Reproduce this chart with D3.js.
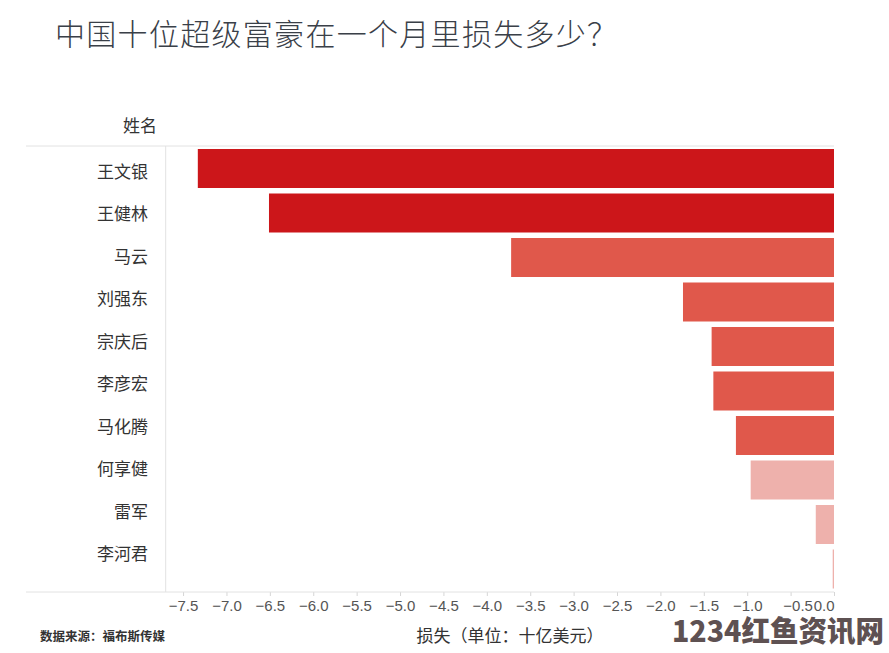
<!DOCTYPE html>
<html><head><meta charset="utf-8">
<script src="https://cdn.jsdelivr.net/npm/d3@7/dist/d3.min.js"></script>
<style>
html,body{margin:0;padding:0;background:#fff;}
svg{display:block;}
</style></head>
<body>
<svg id="chart" width="889" height="653"></svg>
<script>
const names = ["王文银","王健林","马云","刘强东","宗庆后","李彦宏","马化腾","何享健","雷军","李河君"];
const losses = [-7.33,-6.51,-3.72,-1.74,-1.41,-1.39,-1.13,-0.96,-0.21,-0.015];
const groups = ["high","high","mid","mid","mid","mid","mid","low","low","low"];
const tickValues = [-7.5,-7.0,-6.5,-6.0,-5.5,-5.0,-4.5,-4.0,-3.5,-3.0,-2.5,-2.0,-1.5,-1.0,-0.5,0.0];
const title = "中国十位超级富豪在一个月里损失多少？";
const rowHeader = "姓名";
const xTitle = "损失（单位：十亿美元）";
const source = "数据来源：福布斯传媒";
const watermark = "1234红鱼资讯网";

const data = names.map((n,i)=>({name:n, value:losses[i], group:groups[i]}));
const colors = {high:"#cc161a", mid:"#e0584b", low:"#eeb1ac"};

const svg = d3.select("#chart");
const cjk = "'Noto Sans CJK SC','Noto Sans',sans-serif";
const latin = "'Liberation Sans',Arial,sans-serif";

const x = d3.scaleLinear().domain([-7.70, 0]).range([165.7, 834]);
const y = d3.scaleBand().domain(names).range([146, 591]).padding(0);
const yLabel = d3.scaleBand().domain(names).range([151, 576]).padding(0);

// title
svg.append("text").attr("x",55).attr("y",45).text(title)
  .attr("font-family",cjk).attr("font-size",30).attr("font-weight",300)
  .attr("fill","#3a4048").attr("letter-spacing",1.3);

// header
svg.append("text").attr("x",157).attr("y",126).attr("dy","0.35em")
  .attr("text-anchor","end").text(rowHeader)
  .attr("font-family",cjk).attr("font-size",17).attr("fill","#333");

// grid lines
svg.append("line").attr("x1",26).attr("x2",834).attr("y1",146).attr("y2",146)
  .attr("stroke","#e2e2e2").attr("stroke-width",1);
svg.append("line").attr("x1",165.7).attr("x2",165.7).attr("y1",146).attr("y2",592)
  .attr("stroke","#e2e2e2").attr("stroke-width",1);

// bars
svg.append("g").selectAll("rect").data(data).join("rect")
  .attr("x", d=>x(d.value))
  .attr("y", d=>y(d.name)+3)
  .attr("width", d=>Math.max(1, x(0)-x(d.value)))
  .attr("height", y.bandwidth()-5.5)
  .attr("fill", d=>colors[d.group]);

// y labels
const yAxis = svg.append("g").attr("transform","translate(148,0)")
  .call(d3.axisLeft(yLabel).tickSize(0).tickPadding(0));
yAxis.select(".domain").remove();
yAxis.selectAll("text").attr("font-family",cjk).attr("font-size",17).attr("fill","#333");

// x axis
const xAxis = svg.append("g").attr("transform","translate(0,592)")
  .call(d3.axisBottom(x).tickValues(tickValues).tickSize(4).tickPadding(4)
        .tickFormat(d3.format(".1f")));
xAxis.select(".domain").remove();
svg.append("line").attr("x1",26).attr("x2",834).attr("y1",592).attr("y2",592)
  .attr("stroke","#e2e2e2").attr("stroke-width",1);
xAxis.selectAll(".tick line").attr("stroke","#d6d6d6");
xAxis.selectAll(".tick text").attr("font-family",latin).attr("font-size",15).attr("fill","#555")
  .attr("text-anchor", d=> d===0 ? "end" : "middle")
  .attr("dx", d=> d===0 ? 0 : (d===-0.5 ? 7 : 0));

// axis title
svg.append("text").attr("x",510).attr("y",636).attr("dy","0.35em")
  .attr("text-anchor","middle").text(xTitle)
  .attr("font-family",cjk).attr("font-size",17).attr("fill","#333");

// source
svg.append("text").attr("x",40).attr("y",637).attr("dy","0.35em").text(source)
  .attr("font-family",cjk).attr("font-size",12.5).attr("font-weight",700).attr("fill","#333");

// watermark
svg.append("text").attr("x",672).attr("y",632).attr("dy","0.35em").text(watermark)
  .attr("font-family",cjk).attr("font-size",29).attr("font-weight",900)
  .attr("textLength",212).attr("lengthAdjust","spacingAndGlyphs")
  .attr("fill","#5e5152");
</script>
</body></html>
